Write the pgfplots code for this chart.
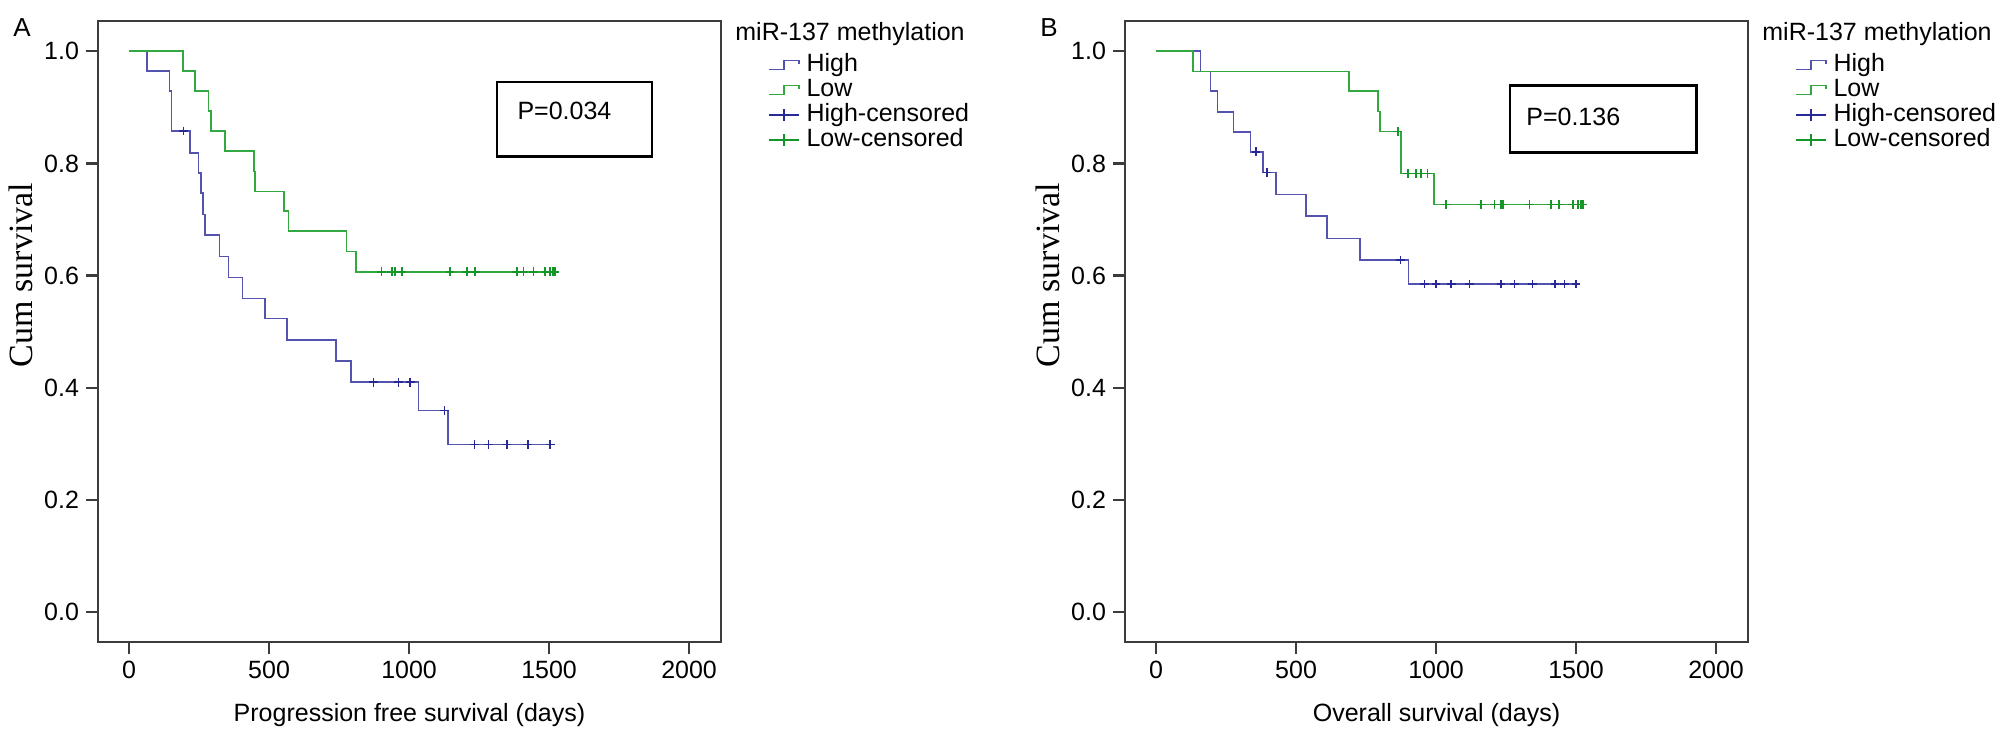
\documentclass[border=0pt]{standalone}
\usepackage{fontspec}
\setmainfont{Liberation Sans}
\newfontfamily\serif{Liberation Serif}
\usepackage{pgfplots}
\pgfplotsset{compat=1.18}

\definecolor{hiline}{RGB}{84,84,176}
\definecolor{himark}{RGB}{40,40,150}
\definecolor{loline}{RGB}{52,168,64}
\definecolor{lomark}{RGB}{20,150,40}
\definecolor{axgray}{RGB}{60,60,60}

\newcommand\sz{\fontsize{12.5bp}{15bp}\selectfont}

\pgfplotsset{
  steplegend/.style={legend image code/.code={%
    \draw[##1] (0bp,-2.25bp) -- (7.5bp,-2.25bp) -- (7.5bp,2.25bp) -- (15bp,2.25bp) -- (15bp,0.5bp);}},
  censlegend/.style={legend image code/.code={%
    \draw[##1] (0bp,0bp) -- (15bp,0bp); \draw[##1] (7.5bp,-3bp) -- (7.5bp,3bp);}},
  km/.style={
    scale only axis, width=311.5bp, height=310.5bp,
    anchor=south west, clip=false,
    xmin=-111, xmax=2114, ymin=-0.053, ymax=1.054,
    xtick={0,500,1000,1500,2000}, ytick={0,0.2,0.4,0.6,0.8,1},
    xtick pos=bottom, ytick pos=left, tick align=outside,
    major tick length=6bp,
    tick style={axgray, line width=1.2bp},
    axis line style={axgray, line width=1.3bp},
    /pgf/number format/assume math mode=true,
    /pgf/number format/1000 sep={},
    scaled x ticks=false,
    yticklabel style={/pgf/number format/.cd, fixed, fixed zerofill, precision=1},
    tick label style={font=\sz},
    xlabel style={at={(axis description cs:0.5,-0.1176)}, anchor=center, font=\sz},
    ylabel={Cum survival},
    ylabel style={at={(axis description cs:-0.1236,0.591)}, anchor=center,
      font=\serif\fontsize{17bp}{20bp}\selectfont},
    legend style={at={(1.0754,0.9493)}, anchor=north west, draw=none, fill=none,
      inner sep=0pt, outer sep=0pt, font=\sz, row sep=0pt,
      nodes={inner ysep=0.5bp, inner xsep=3.5bp, text height=9bp, text depth=2.5bp}},
    legend cell align=left,
  },
  hi/.style={const plot, hiline, line width=0.8bp, forget plot},
  lo/.style={const plot, loline, line width=0.8bp, forget plot},
  hic/.style={only marks, mark=+, mark size=2.2bp, himark, mark options={line width=0.8bp}, forget plot},
  loc/.style={only marks, mark=+, mark size=2.2bp, lomark, mark options={line width=0.8bp}, forget plot},
}

\begin{document}
\begin{tikzpicture}
\path (0,0) rectangle (1004bp,372.5bp);

% A: progression free survival
\begin{axis}[km, at={(49bp,51.5bp)}, xlabel={Progression free survival (days)}]
\addplot[hi] coordinates {
  (0,1.0) (63,0.965) (144,0.929) (152,0.858) (218,0.819) (248,0.783)
  (256,0.747) (263,0.709) (271,0.673) (323,0.634) (355,0.597) (405,0.559)
  (486,0.524) (563,0.485) (739,0.448) (792,0.410) (1033,0.360) (1138,0.299)
  (1504,0.299)
};
\addplot[hic] coordinates {
  (194,0.858) (873,0.410) (962,0.410) (1004,0.410) (1126,0.360)
  (1233,0.299) (1283,0.299) (1349,0.299) (1424,0.299) (1504,0.299)
};
\addplot[lo] coordinates {
  (0,1.0) (192,0.965) (236,0.929) (283,0.894) (293,0.858) (343,0.822)
  (446,0.786) (450,0.750) (554,0.715) (569,0.680) (777,0.643) (811,0.607)
  (1521,0.607)
};
\addplot[loc] coordinates {
  (902,0.607) (938,0.607) (950,0.607) (974,0.607) (1146,0.607) (1206,0.607)
  (1236,0.607) (1385,0.607) (1408,0.607) (1444,0.607) (1486,0.607)
  (1504,0.607) (1514,0.607) (1521,0.607)
};
\addlegendimage{hiline, line width=0.8bp, steplegend}
\addlegendentry{High}
\addlegendimage{loline, line width=0.8bp, steplegend}
\addlegendentry{Low}
\addlegendimage{himark, line width=0.8bp, censlegend}
\addlegendentry{High-censored}
\addlegendimage{lomark, line width=0.8bp, censlegend}
\addlegendentry{Low-censored}
\draw[black, line width=1.3bp] (axis cs:1314,0.8125) rectangle (axis cs:1868,0.945);
\node[anchor=west, font=\sz, inner sep=0pt] at (axis cs:1386,0.893) {P=0.034};
\node[anchor=west, font=\sz, inner sep=0pt] at ([xshift=7bp,yshift=-6.75bp]rel axis cs:1,1) {miR-137 methylation};
\node[font=\fontsize{13bp}{15bp}\selectfont, inner sep=0pt] at ([xshift=-38bp,yshift=-3.25bp]rel axis cs:0,1) {A};
\end{axis}

% B: overall survival
\begin{axis}[km, at={(562.5bp,51.5bp)}, xlabel={Overall survival (days)}]
\addplot[hi] coordinates {
  (0,1.0) (158,0.964) (194,0.929) (220,0.892) (276,0.856) (337,0.821)
  (381,0.784) (429,0.745) (536,0.706) (611,0.666) (729,0.628) (901,0.585)
  (1500,0.585)
};
\addplot[hic] coordinates {
  (357,0.821) (396,0.784) (873,0.628) (958,0.585) (1000,0.585) (1054,0.585)
  (1119,0.585) (1232,0.585) (1280,0.585) (1345,0.585) (1425,0.585)
  (1458,0.585) (1500,0.585)
};
\addplot[lo] coordinates {
  (0,1.0) (131,0.964) (690,0.929) (792,0.893) (800,0.857) (875,0.782)
  (992,0.727) (1524,0.727)
};
\addplot[loc] coordinates {
  (863,0.857) (899,0.782) (929,0.782) (946,0.782) (970,0.782)
  (1036,0.727) (1161,0.727) (1208,0.727) (1232,0.727) (1238,0.727)
  (1333,0.727) (1411,0.727) (1440,0.727) (1488,0.727) (1506,0.727)
  (1518,0.727) (1524,0.727)
};
\addlegendimage{hiline, line width=0.8bp, steplegend}
\addlegendentry{High}
\addlegendimage{loline, line width=0.8bp, steplegend}
\addlegendentry{Low}
\addlegendimage{himark, line width=0.8bp, censlegend}
\addlegendentry{High-censored}
\addlegendimage{lomark, line width=0.8bp, censlegend}
\addlegendentry{Low-censored}
\draw[black, line width=1.3bp] (axis cs:1264,0.820) rectangle (axis cs:1929,0.9395);
\node[anchor=west, font=\sz, inner sep=0pt] at (axis cs:1321,0.8826) {P=0.136};
\node[anchor=west, font=\sz, inner sep=0pt] at ([xshift=7bp,yshift=-6.75bp]rel axis cs:1,1) {miR-137 methylation};
\node[font=\fontsize{13bp}{15bp}\selectfont, inner sep=0pt] at ([xshift=-38bp,yshift=-3.25bp]rel axis cs:0,1) {B};
\end{axis}
\end{tikzpicture}
\end{document}
